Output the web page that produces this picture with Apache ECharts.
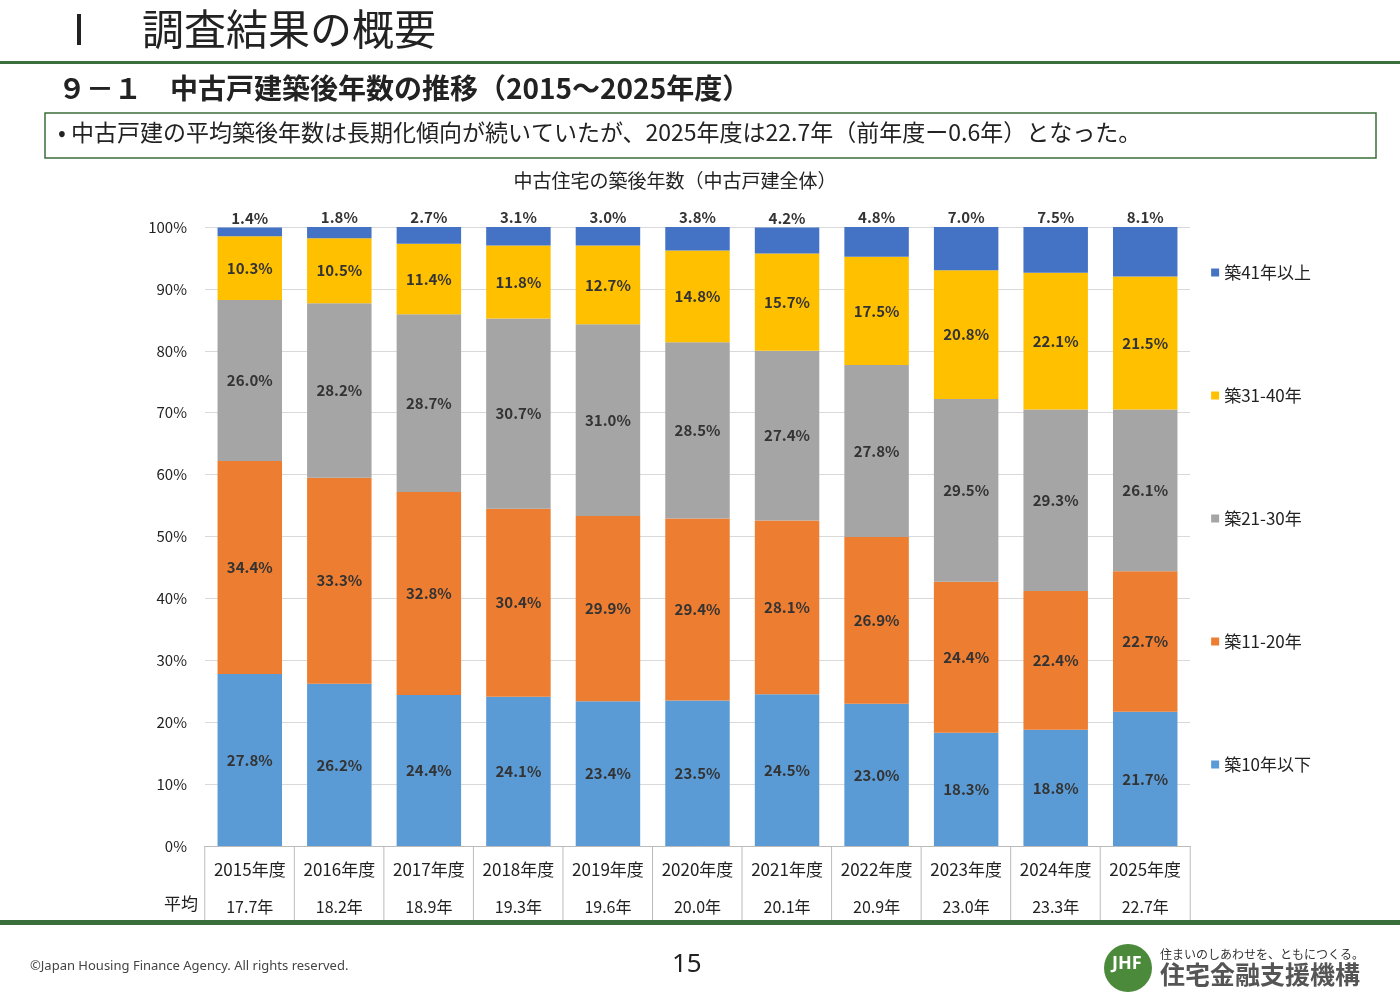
<!DOCTYPE html>
<html><head><meta charset="utf-8">
<script src="https://cdn.jsdelivr.net/npm/echarts@6/dist/echarts.min.js"></script>
<style>html,body{margin:0;background:#fff}#c{width:1400px;height:1000px}</style>
</head><body><div id="c"></div>
<script>
// 年度と平均築後年数
const years = ["2015年度","2016年度","2017年度","2018年度","2019年度","2020年度","2021年度","2022年度","2023年度","2024年度","2025年度"];
const avgAge = ["17.7年","18.2年","18.9年","19.3年","19.6年","20.0年","20.1年","20.9年","23.0年","23.3年","22.7年"];
// 各区分の割合(%)
const age0_10 = [27.8,26.2,24.4,24.1,23.4,23.5,24.5,23.0,18.3,18.8,21.7];
const age11_20 = [34.4,33.3,32.8,30.4,29.9,29.4,28.1,26.9,24.4,22.4,22.7];
const age21_30 = [26.0,28.2,28.7,30.7,31.0,28.5,27.4,27.8,29.5,29.3,26.1];
const age31_40 = [10.3,10.5,11.4,11.8,12.7,14.8,15.7,17.5,20.8,22.1,21.5];
const age41 = [1.4,1.8,2.7,3.1,3.0,3.8,4.2,4.8,7.0,7.5,8.1];

const font = "Noto Sans CJK JP";
const chart = echarts.init(document.getElementById("c"));

function mk(name, data, color, pos) {
  return {
    name, type: "bar", stack: "all", data, barCategoryGap: "28%",
    itemStyle: { color },
    label: { show: true, position: pos || "inside", formatter: p => p.value.toFixed(1) + "%",
      color: "#333", fontSize: 15, fontWeight: "bold", fontFamily: font, distance: 2 }
  };
}

chart.setOption({
  textStyle: { fontFamily: font },
  title: { text: "中古住宅の築後年数（中古戸建全体）", left: 670, top: 166, textAlign: "center",
    textStyle: { fontSize: 19, fontWeight: "normal", color: "#222", fontFamily: font } },
  grid: { left: 205, right: 210, top: 227, bottom: 154 },
  legend: {
    orient: "vertical", right: 84, top: 259, itemGap: 106, itemWidth: 8, itemHeight: 8,
    icon: "rect", textStyle: { fontSize: 17, color: "#222", fontFamily: font },
    data: ["築41年以上","築31-40年","築21-30年","築11-20年","築10年以下"]
  },
  xAxis: {
    type: "category", data: years,
    axisLine: { lineStyle: { color: "#bbb" } }, axisTick: { show: false },
    axisLabel: { interval: 0, margin: 6,
      formatter: (v, i) => "{y|" + v + "}\n{a|" + avgAge[i] + "}",
      rich: { y: { fontSize: 17, color: "#222", lineHeight: 36, fontFamily: font },
              a: { fontSize: 16, color: "#222", lineHeight: 38, fontFamily: font } } }
  },
  yAxis: {
    type: "value", min: 0, max: 100, interval: 10,
    axisLabel: { formatter: "{value}%", fontSize: 15, color: "#222", margin: 18 },
    splitLine: { lineStyle: { color: "#d9d9d9" } }
  },
  series: [
    mk("築10年以下", age0_10, "#5B9BD5"),
    mk("築11-20年", age11_20, "#ED7D31"),
    mk("築21-30年", age21_30, "#A5A5A5"),
    mk("築31-40年", age31_40, "#FFC000"),
    mk("築41年以上", age41, "#4472C4", "top")
  ]
});

// テーブル罫線・見出し等
const g = [];
const y0 = chart.convertToPixel({ yAxisIndex: 0 }, 0);
for (let i = 0; i <= years.length; i++) {
  const x = i < years.length ? chart.convertToPixel({ xAxisIndex: 0 }, years[i]) - 45 : chart.convertToPixel({ xAxisIndex: 0 }, years[i - 1]) + 45;
  g.push({ type: "line", shape: { x1: x, y1: y0, x2: x, y2: y0 + 74 }, style: { stroke: "#bbb", lineWidth: 1 } });
}
g.push(
  { type: "text", left: 164, top: 895, style: { text: "平均", fontSize: 17, fill: "#222", fontFamily: font } },
  { type: "text", left: 58, top: 8, style: { text: "Ⅰ　調査結果の概要", fontSize: 42, fill: "#222", fontFamily: font } },
  { type: "rect", shape: { x: 0, y: 61, width: 1400, height: 3 }, style: { fill: "#3a6e3a" } },
  { type: "text", left: 58, top: 74, style: { text: "９－１　中古戸建築後年数の推移（2015～2025年度）", fontSize: 28, fontWeight: "bold", fill: "#222", fontFamily: font } },
  { type: "rect", shape: { x: 45, y: 113, width: 1331, height: 45 }, style: { fill: "#fff", stroke: "#3a6e3a", lineWidth: 1.5 } },
  { type: "text", left: 58, top: 121, style: { text: "• 中古戸建の平均築後年数は長期化傾向が続いていたが、2025年度は22.7年（前年度ー0.6年）となった。", fontSize: 23, fill: "#222", fontFamily: font } },
  { type: "rect", shape: { x: 0, y: 920, width: 1400, height: 5 }, style: { fill: "#3a6e3a" } },
  { type: "text", left: 30, top: 960, style: { text: "©Japan Housing Finance Agency. All rights reserved.", fontSize: 13, fill: "#444", fontFamily: "Noto Sans" } },
  { type: "text", left: 672, top: 952, style: { text: "15", fontSize: 26, fill: "#222", fontFamily: "Noto Sans" } },
  { type: "circle", shape: { cx: 1128, cy: 968, r: 24 }, style: { fill: "#4a8a3a" } },
  { type: "text", left: 1112, top: 955, style: { text: "JHF", fontSize: 18, fontWeight: "bold", fill: "#fff", fontFamily: "Noto Sans" } },
  { type: "text", left: 1160, top: 948, style: { text: "住まいのしあわせを、ともにつくる。", fontSize: 12, fill: "#333", fontFamily: font } },
  { type: "text", left: 1160, top: 962, style: { text: "住宅金融支援機構", fontSize: 25, fontWeight: "bold", fill: "#555", fontFamily: font } }
);
chart.setOption({ graphic: g });
</script></body></html>
